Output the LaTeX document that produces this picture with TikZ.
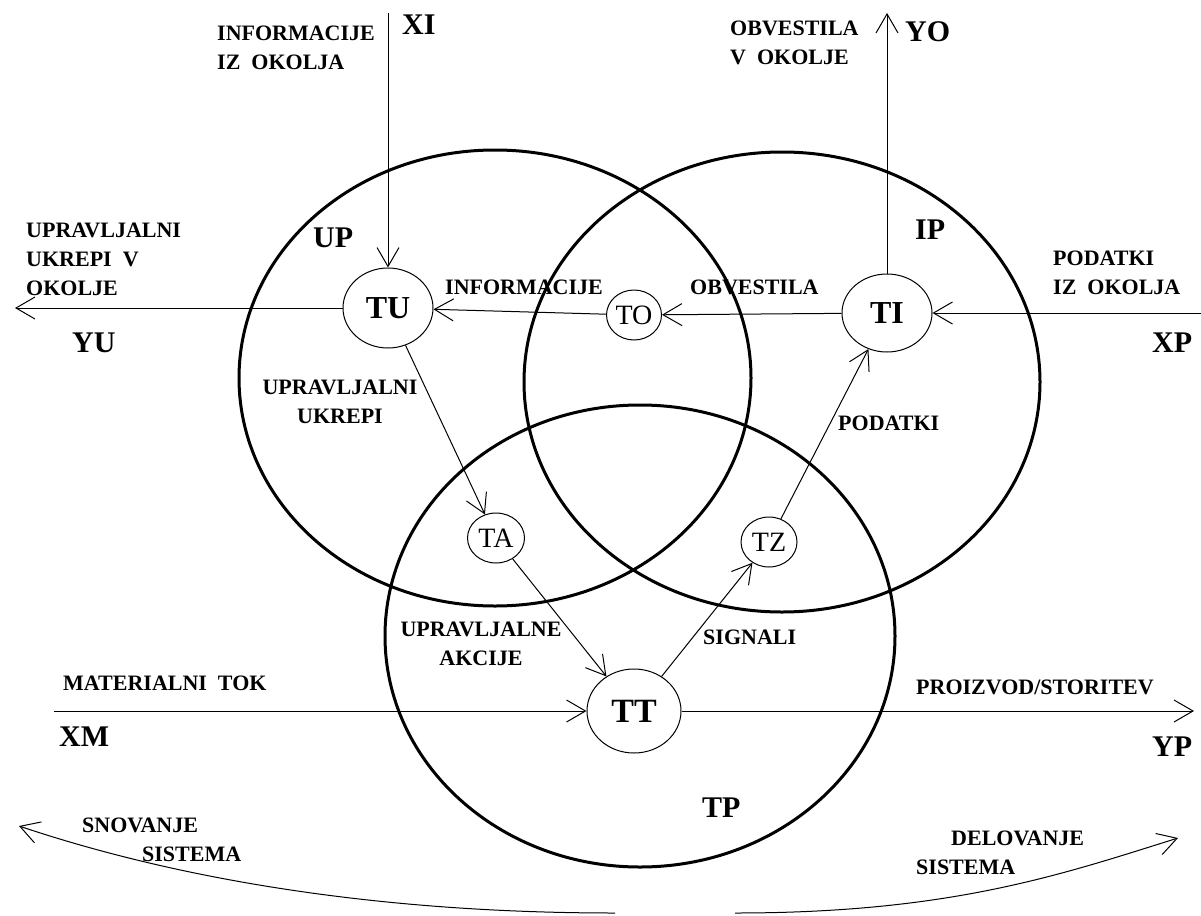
\documentclass[tikz,border=0pt]{standalone}
\usepackage{fontspec}
\setmainfont{Liberation Serif}
\usepackage{tikz}
\usetikzlibrary{arrows.meta,shapes.geometric}

\tikzset{
  zone/.style={line width=3pt},
  flow/.style={line width=1pt,-{Straight Barb[length=19pt,width=22pt]}},
  proc/.style={ellipse,draw,line width=1pt,inner sep=0pt,
    font=\fontsize{28}{28}\selectfont},
  bigproc/.style={proc,font=\fontsize{32}{32}\selectfont\bfseries},
  lbl/.style={anchor=west,inner sep=0pt,align=left,
    font=\fontsize{22}{29}\selectfont\bfseries},
  clbl/.style={lbl,anchor=center,align=center},
  biglbl/.style={anchor=west,inner sep=0pt,font=\fontsize{30}{30}\selectfont\bfseries}
}

\begin{document}
\begin{tikzpicture}[x=1pt,y=-1pt]
  \useasboundingbox (0,0) rectangle (1201,915);
  \draw[zone] (495,378) ellipse [x radius=256, y radius=228];
  \draw[zone] (782,382) ellipse [x radius=258, y radius=230];
  \draw[zone] (640,636) ellipse [x radius=255, y radius=231];

  \node[bigproc,minimum width=90,minimum height=80] (TU) at (388,308) {TU};
  \node[bigproc,minimum width=90,minimum height=78] (TI) at (887,313) {TI};
  \node[bigproc,minimum width=94,minimum height=84,font=\fontsize{34}{34}\selectfont\bfseries] (TT) at (634,711) {TT};
  \node[proc,minimum width=55,minimum height=50] (TO) at (634,315) {TO};
  \node[proc,minimum width=57,minimum height=50] (TA) at (496,538) {TA};
  \node[proc,minimum width=56,minimum height=50] (TZ) at (769,542) {TZ};

  \coordinate (XIin) at (388,13);
  \coordinate (YOout) at (887,13);
  \coordinate (XPin) at (1201,313);
  \coordinate (YUout) at (15,308);
  \coordinate (XMin) at (54,711);
  \coordinate (YPout) at (1194,711);
  \coordinate (SNa) at (615,913);
  \coordinate (SNb) at (19,826);
  \coordinate (DLa) at (735,913);
  \coordinate (DLb) at (1178,838);

  \draw[flow] (XIin) -- (TU);
  \draw[flow] (TI) -- (YOout);
  \draw[flow] (XPin) -- (TI);
  \draw[flow] (TU) -- (YUout);
  \draw[flow] (TI) -- (TO);
  \draw[flow] (TO) -- (TU);
  \draw[flow] (TU) -- (TA);
  \draw[flow] (TA) -- (TT);
  \draw[flow] (TT) -- (TZ);
  \draw[flow] (TZ) -- (TI);
  \draw[flow] (XMin) -- (TT);
  \draw[flow] (TT) -- (YPout);
  \draw[flow] (SNa) .. controls (380,913) and (180,880) .. (SNb);
  \draw[flow] (DLa) .. controls (950,913) and (1060,875) .. (DLb);

  \node[lbl] (infoin) at (217,48) {INFORMACIJE\\IZ~~OKOLJA};
  \node[biglbl] (XI) at (402,25) {XI};
  \node[lbl] (obvout) at (730,43) {OBVESTILA\\V~~OKOLJE};
  \node[biglbl] (YO) at (905,32) {YO};
  \node[lbl] (ukrout) at (26,259) {UPRAVLJALNI\\UKREPI~~V\\OKOLJE};
  \node[biglbl] (YU) at (72,343) {YU};
  \node[biglbl] (UP) at (313,238) {UP};
  \node[lbl] (info) at (445,287) {INFORMACIJE};
  \node[lbl] (obv) at (690,287) {OBVESTILA};
  \node[biglbl] (IP) at (915,230) {IP};
  \node[lbl] (podin) at (1053,273) {PODATKI\\IZ~~OKOLJA};
  \node[biglbl] (XP) at (1152,343) {XP};
  \node[clbl] (ukr) at (340,402) {UPRAVLJALNI\\UKREPI};
  \node[lbl] (pod) at (838,423) {PODATKI};
  \node[clbl] (akc) at (481,644) {UPRAVLJALNE\\AKCIJE};
  \node[lbl] (sig) at (703,637) {SIGNALI};
  \node[lbl] (mat) at (63,683) {MATERIALNI~~TOK};
  \node[biglbl] (XM) at (59,737) {XM};
  \node[lbl] (proiz) at (916,687) {PROIZVOD/STORITEV};
  \node[biglbl] (YP) at (1152,747) {YP};
  \node[biglbl] (TP) at (702,808) {TP};
  \node[lbl] (snov) at (82,840) {SNOVANJE\\\hspace*{60pt}SISTEMA};
  \node[lbl] (delo) at (916,853) {\hspace*{35pt}DELOVANJE\\SISTEMA};
\end{tikzpicture}
\end{document}
